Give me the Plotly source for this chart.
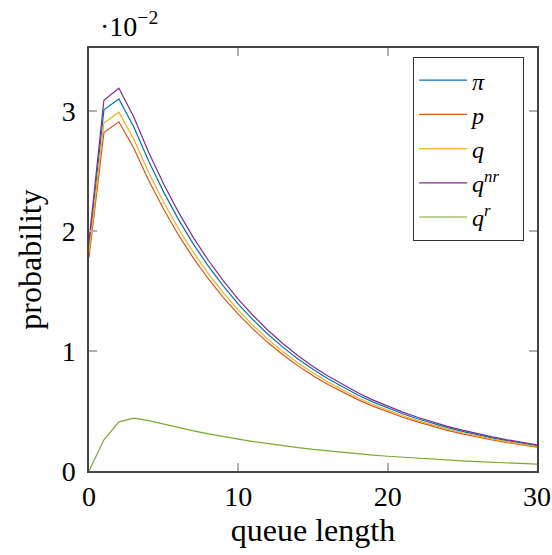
import plotly.graph_objects as go

x = list(range(31))

# values in units of 1e-2
qnr = [1.92, 3.09, 3.19, 2.95, 2.655, 2.391, 2.155, 1.943, 1.754, 1.584, 1.431, 1.294, 1.171, 1.060,
       0.961, 0.871, 0.791, 0.718, 0.652, 0.593, 0.540, 0.491, 0.448, 0.408, 0.372, 0.340, 0.310,
       0.284, 0.260, 0.238, 0.218]
pi = [1.86, 3.01, 3.10, 2.867, 2.581, 2.324, 2.095, 1.889, 1.705, 1.540, 1.391, 1.258, 1.138, 1.030,
      0.934, 0.847, 0.769, 0.698, 0.634, 0.576, 0.525, 0.477, 0.435, 0.397, 0.362, 0.330, 0.301,
      0.276, 0.253, 0.231, 0.212]
q = [1.82, 2.90, 2.99, 2.764, 2.488, 2.240, 2.019, 1.821, 1.643, 1.484, 1.341, 1.212, 1.097, 0.993,
     0.900, 0.816, 0.741, 0.673, 0.611, 0.556, 0.506, 0.460, 0.420, 0.382, 0.349, 0.319, 0.290,
     0.266, 0.244, 0.223, 0.204]
p = [1.78, 2.82, 2.91, 2.690, 2.421, 2.181, 1.965, 1.772, 1.600, 1.445, 1.305, 1.180, 1.068, 0.967,
     0.876, 0.794, 0.721, 0.655, 0.595, 0.541, 0.492, 0.448, 0.409, 0.372, 0.339, 0.310, 0.283,
     0.259, 0.237, 0.217, 0.199]
qr = [0.0, 0.26, 0.41, 0.44, 0.42, 0.39, 0.36, 0.335, 0.31, 0.285, 0.265, 0.245, 0.227, 0.21, 0.195,
      0.18, 0.167, 0.155, 0.144, 0.133, 0.123, 0.114, 0.106, 0.098, 0.091, 0.084, 0.078, 0.072,
      0.067, 0.062, 0.057]

series = [
    ("<i>π</i>", pi, "#0072BD"),
    ("<i>p</i>", p, "#D95319"),
    ("<i>q</i>", q, "#EDB120"),
    ("<i>q</i><sup><i>nr</i></sup>\u00a0\u00a0\u00a0", qnr, "#7E2F8E"),
    ("<i>q</i><sup><i>r</i></sup>", qr, "#77AC30"),
]

FONT = "Liberation Serif, DejaVu Serif, Times New Roman, serif"
TICK = 28
TITLE = 32
LEG = 24

fig = go.Figure()
for name, vals, col in series:
    fig.add_trace(go.Scatter(x=x, y=vals, mode="lines", name=name,
                             line=dict(color=col, width=1.2)))

axis_common = dict(
    showline=True, linecolor="#444444", linewidth=1.5, mirror="ticks",
    ticks="inside", ticklen=8, tickcolor="#b0b0b0", tickwidth=1.5,
    showgrid=False, zeroline=False, automargin=False,
    tickfont=dict(family=FONT, size=TICK, color="black"),
)

fig.update_xaxes(range=[0, 30], tickvals=[0, 10, 20, 30],
                 title=dict(text="queue length", font=dict(family=FONT, size=TITLE, color="black"), standoff=4),
                 **axis_common)
fig.update_yaxes(range=[0, 3.525], tickvals=[0, 1, 2, 3],
                 title=dict(text="probability", font=dict(family=FONT, size=TITLE, color="black"), standoff=10),
                 ticklabelstandoff=6,
                 **axis_common)

fig.add_annotation(text="·10<sup>−2</sup>", xref="paper", yref="paper", x=0.02, y=1.055,
                   xanchor="left", yanchor="middle", showarrow=False,
                   font=dict(family=FONT, size=TICK, color="black"))

fig.update_layout(
    width=552, height=555,
    margin=dict(l=89, r=15, t=48, b=84, autoexpand=False),
    paper_bgcolor="white", plot_bgcolor="white",
    showlegend=True,
    legend=dict(x=0.723, y=0.979, xanchor="left", yanchor="top",
                bordercolor="#333333", borderwidth=1.2, bgcolor="white",
                font=dict(family=FONT, size=LEG, color="black"),
                tracegroupgap=0, itemwidth=48),
)

fig.write_html("out.html")
